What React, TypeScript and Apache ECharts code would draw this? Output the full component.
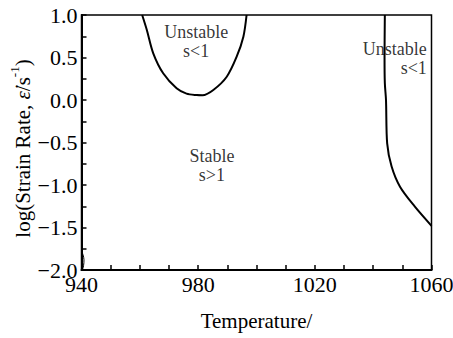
import React, { useEffect, useRef } from "react";
import * as echarts from "echarts";

// Left "U" boundary (Temperature, log strain rate)
const leftCurveT = [960.8, 962.4, 964.6, 968.0, 972.6, 976.0, 979.5, 981.5, 985.2, 989.8, 993.2, 995.5, 996.6];
const leftCurveR = [1.0, 0.824, 0.549, 0.314, 0.138, 0.075, 0.058, 0.056, 0.118, 0.274, 0.509, 0.745, 1.0];

// Right boundary
const rightCurveT = [1044.0, 1043.9, 1044.0, 1044.4, 1044.8, 1046.3, 1049.2, 1054.3, 1060.0];
const rightCurveR = [1.0, 0.5, 0.2, 0.0, -0.51, -0.78, -1.02, -1.255, -1.48];

// Small corner boundary
const cornerT = [940.0, 940.5, 940.85, 940.7, 940.3];
const cornerR = [-1.77, -1.82, -1.88, -1.95, -2.0];

// Region annotations
const regionLabels = ["Unstable\ns<1", "Stable\ns>1", "Unstable\ns<1"];
const regionT = [979.3, 984.7, 1058.4];
const regionR = [0.686, -0.765, 0.49];
const regionAlign = ["center", "center", "right"];

const xTickLabels = [940, 980, 1020, 1060];
const yTickLabels = [-2.0, -1.5, -1.0, -0.5, 0.0, 0.5, 1.0];

const FONT = "Liberation Serif";

export default function App() {
  const ref = useRef<HTMLDivElement>(null);
  useEffect(() => {
    if (!ref.current) return;
    const chart = echarts.init(ref.current, undefined, { renderer: "svg" });
    const zip = (a: number[], b: number[]) => a.map((v, i) => [v, b[i]]);
    const lineStyle = { color: "#000", width: 2 };
    chart.setOption({
      animation: false,
      backgroundColor: "#fff",
      textStyle: { fontFamily: FONT, color: "#000" },
      grid: {
        left: 81.5,
        right: 21.5,
        top: 15,
        bottom: 68,
        outerBoundsMode: "none",
        containLabel: false,
        show: true,
        borderColor: "#000",
        borderWidth: 1.5,
        backgroundColor: "transparent",
      },
      xAxis: {
        type: "value",
        min: 940,
        max: 1060,
        interval: 10,
        name: "Temperature/",
        nameLocation: "middle",
        nameGap: 40,
        nameMoveOverlap: false,
        nameTextStyle: { fontFamily: FONT, fontSize: 21, color: "#000" },
        axisLine: { show: true, onZero: false, lineStyle: { color: "#000", width: 2 } },
        axisTick: { show: true, inside: true, length: 5, lineStyle: { color: "#000", width: 1.5 } },
        splitLine: { show: false },
        axisLabel: {
          fontFamily: FONT,
          fontSize: 22,
          color: "#000",
          margin: 3,
          showMinLabel: true,
          showMaxLabel: true,
          hideOverlap: false,
          formatter: (v: number) => (xTickLabels.indexOf(Math.round(v)) >= 0 ? String(Math.round(v)) : ""),
        },
      },
      yAxis: {
        type: "value",
        min: -2,
        max: 1,
        interval: 0.25,
        name: "{a|log(Strain Rate, }{e|ε̇}{a|/s}{s|-1}{a|)}",
        nameLocation: "middle",
        nameGap: 48,
        nameMoveOverlap: false,
        nameRotate: 90,
        nameTextStyle: {
          fontFamily: FONT,
          fontSize: 21,
          color: "#000",
          padding: [0, 12, 0, 0],
          rich: {
            a: { fontFamily: FONT, fontSize: 21, color: "#000", verticalAlign: "bottom", lineHeight: 26 },
            e: { fontFamily: FONT, fontSize: 21, fontStyle: "italic", color: "#000", verticalAlign: "bottom", lineHeight: 26 },
            s: { fontFamily: FONT, fontSize: 13, color: "#000", verticalAlign: "top", lineHeight: 26 },
          },
        },
        axisLine: { show: true, onZero: false, lineStyle: { color: "#000", width: 2 } },
        axisTick: { show: true, inside: true, length: 5, lineStyle: { color: "#000", width: 1.5 } },
        splitLine: { show: false },
        axisLabel: {
          fontFamily: FONT,
          fontSize: 22,
          color: "#000",
          margin: 4,
          hideOverlap: false,
          formatter: (v: number) => {
            const hit = yTickLabels.find((t) => Math.abs(t - v) < 1e-6);
            if (hit === undefined) return "";
            return hit.toFixed(1).replace("-", "\u2212");
          },
        },
      },
      series: [
        {
          type: "line",
          data: zip(leftCurveT, leftCurveR),
          smooth: 0.3,
          showSymbol: false,
          symbol: "none",
          lineStyle,
          silent: true,
        },
        {
          type: "line",
          data: zip(rightCurveT, rightCurveR),
          smooth: 0.3,
          showSymbol: false,
          symbol: "none",
          lineStyle,
          silent: true,
        },
        {
          type: "line",
          data: zip(cornerT, cornerR),
          smooth: 0.4,
          showSymbol: false,
          symbol: "none",
          lineStyle: { color: "#000", width: 1 },
          silent: true,
        },
        {
          type: "scatter",
          symbolSize: 0,
          silent: true,
          data: regionLabels.map((txt, i) => ({
            value: [regionT[i], regionR[i]],
            name: txt,
            label: { align: regionAlign[i] },
          })),
          label: {
            show: true,
            position: "inside",
            formatter: (p: any) => p.name,
            fontFamily: FONT,
            fontSize: 18,
            color: "#000",
            lineHeight: 19,
          },
        },
      ],
    });
    return () => chart.dispose();
  }, []);
  return <div ref={ref} style={{ width: 453, height: 338, position: "absolute", left: 0, top: 0 }} />;
}
